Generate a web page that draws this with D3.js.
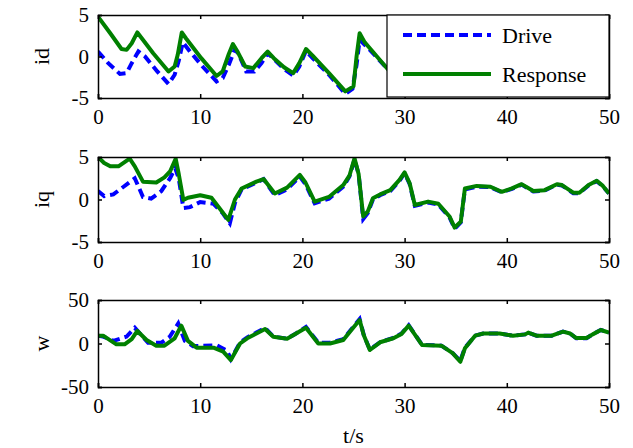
<!DOCTYPE html>
<html><head><meta charset="utf-8">
<script src="https://cdn.jsdelivr.net/npm/d3@7"></script>
<style>html,body{margin:0;padding:0;background:#fff}svg{display:block}</style>
</head><body>
<script>
// ---- data ----
const seriesNames = ["Drive", "Response"];
const xTicks = [0, 10, 20, 30, 40, 50];
const yTicksI = [-5, 0, 5];
const yTicksW = [-50, 0, 50];
const yLabels = ["id", "iq", "w"];
const xLabel = "t/s";

const idDriveT = [0,1,2.15,2.8,3.3,3.95,4.6,5.8,6.9,7.5,7.9,8.3,9,10.3,11.6,12.2,12.8,13.4,13.8,14.5,15.3,16,16.6,17.2,18.2,19.1,19.7,20.35,21,22.6,24.2,24.9,25.3,25.6,26.6,28.4,29.5];
const idDriveV = [0.6,-0.8,-2.1,-2.0,-0.8,0.6,0.0,-1.8,-3.3,-2.2,-0.5,1.7,0.6,-1.3,-3.0,-2.6,-1.0,0.9,0.2,-1.8,-1.8,-0.8,0.4,-0.3,-1.5,-2.3,-1.2,0.7,-0.2,-2.2,-4.5,-3.9,-1.0,2.0,0.8,-1.6,-2.8];
const idRespT = [0,1.2,2.3,2.8,3.3,3.85,5.4,6.9,7.5,7.8,8.2,8.6,10.1,11.6,12.2,12.8,13.2,13.6,14.4,15.2,16,16.6,17.2,18.2,19.1,19.7,20.35,21,22.6,24.2,25,25.3,25.6,26.1,26.6,28.4,29.5];
const idRespV = [4.8,2.8,0.9,0.8,1.6,2.9,0.4,-1.8,-1.2,0.2,2.9,2.2,-0.2,-2.35,-1.8,0.3,1.5,0.7,-1.2,-1.4,-0.2,0.6,-0.2,-1.3,-2.0,-0.8,0.9,0.1,-2.0,-4.2,-3.6,0.0,2.8,1.7,1.0,-1.6,-2.6];

const iqDriveT = [0,0.6,1.5,2.5,3.6,4.0,4.4,5.2,6.2,7.05,7.55,7.9,8.35,9,10,11.3,12.2,12.9,13.4,14.05,15.5,16.2,17.3,18.5,19.75,20.3,21.2,22.6,24,24.6,25.1,25.5,25.95,26.4,26.9,27.6,28.6,29.5,30.0,30.5,31.0,32.3,33.3,34.4,34.9,35.5,35.9,37.05,38.4,39.5,40.5,41.45,42.6,43.7,44.9,45.4,46.5,47.1,48,48.8,49.4,50];
const iqDriveV = [1.0,0.4,0.6,1.5,2.5,1.4,0.3,0.1,1.0,2.5,3.7,2.5,-1.0,-0.9,-0.3,-0.5,-1.6,-2.8,-0.4,1.2,2.0,2.4,0.5,1.2,2.7,1.8,-0.45,0.1,1.5,2.7,4.7,3.0,-2.3,-1.6,0.0,0.5,1.0,2.2,3.1,1.8,-0.75,-0.35,-0.6,-2.1,-3.45,-2.7,1.2,1.5,1.45,0.85,1.25,1.75,0.95,1.05,1.75,1.65,0.75,0.75,1.65,2.15,1.55,0.7];
const iqRespT = [0,0.6,1.2,2,3.1,3.6,4.4,5.7,6.5,7.05,7.6,7.9,8.35,8.8,10,11.1,12,12.75,13.4,14.05,15.5,16.2,17.3,18.5,19.75,20.3,21.2,22.6,24,24.6,25.1,25.5,25.95,26.4,26.9,27.6,28.6,29.5,30.0,30.5,31.0,32.3,33.3,34.4,34.9,35.5,35.9,37.05,38.4,39.5,40.5,41.45,42.6,43.7,44.9,45.4,46.5,47.1,48,48.8,49.4,50];
const iqRespV = [5.0,4.3,3.9,3.9,4.8,3.9,2.1,2.0,2.6,3.3,4.8,3.0,-0.05,0.2,0.5,0.2,-1.2,-2.4,0.0,1.3,2.1,2.4,0.7,1.4,2.9,2.0,-0.25,0.3,1.7,2.8,4.85,3.0,-2.0,-1.4,0.15,0.6,1.1,2.3,3.2,1.9,-0.65,-0.25,-0.5,-2.0,-3.3,-2.6,1.3,1.6,1.5,0.9,1.3,1.8,1.0,1.1,1.8,1.7,0.8,0.8,1.7,2.2,1.6,0.7];

const wDriveT = [0,0.5,1.5,2.8,3.6,4.2,4.9,6.2,7.0,7.85,8.5,9.3,11.6,12.6,13,13.9,14.6,16.35,17.15,18.5,19.3,20.35,21.55,22.7,24,24.65,25.6,26,26.6,27.6,28.9,29.7,30.4,31.7,33.6,34.7,35.45,35.9,36.9,37.7,39.3,40.6,41.8,42.1,42.9,44.4,45.5,46.2,46.8,47.8,48.4,49.2,50];
const wDriveV = [9,8,3,8,18,10,1,1,7.5,23,3,-3,-2,-8,-18,1,7,18,8,5.5,11,19,1,1,5,14.5,28,10,-7,1.5,6.5,11.5,21,-1.5,-2.5,-11,-20,-5,9,11.5,11.5,9,10.5,12.5,9,9,13.6,11.5,6,6,10.5,15.5,12.5];
const wRespT = [0,0.5,1.8,2.6,3.3,3.85,4.75,5.7,6.5,7.5,8.15,8.8,9.65,11.3,12.25,13,13.9,14.6,16.35,17.15,18.5,19.3,20.35,21.55,22.7,24,24.65,25.6,26,26.6,27.6,28.9,29.7,30.4,31.7,33.6,34.7,35.45,35.9,36.9,37.7,39.3,40.6,41.8,42.1,42.9,44.4,45.5,46.2,46.8,47.8,48.4,49.2,50];
const wRespV = [9,9,-1,-1,5,14.4,4,-2.5,-2.5,6,20.5,3,-4.8,-4.8,-9.4,-19,0,6,16.7,7.8,5.5,11,18,0,0,4,13.6,27,9.8,-7.5,1.4,6,11,20.5,-1.7,-2.5,-11,-21,-5.5,9,11.5,11.5,9,10.5,12.5,9,9,13.6,11.5,6.3,6.3,10.5,15.5,12.5];

// ---- layout ----
const W = 633, H = 448;
const FONT = "Times New Roman, Liberation Serif, DejaVu Serif, serif";
const svg = d3.select("body").append("svg").attr("width", W).attr("height", H)
  .style("font-family", FONT);
const left = 98, right = 609;
const panels = [
  {top: 15, bottom: 98, dom: [-5, 5], ticks: yTicksI, label: yLabels[0],
   drive: d3.zip(idDriveT, idDriveV), resp: d3.zip(idRespT, idRespV)},
  {top: 157, bottom: 242, dom: [-5, 5], ticks: yTicksI, label: yLabels[1],
   drive: d3.zip(iqDriveT, iqDriveV), resp: d3.zip(iqRespT, iqRespV)},
  {top: 300, bottom: 387, dom: [-50, 50], ticks: yTicksW, label: yLabels[2],
   drive: d3.zip(wDriveT, wDriveV), resp: d3.zip(wRespT, wRespV)}
];
const x = d3.scaleLinear().domain([0, 50]).range([left, right]);
const FS = 21, FSL = 22, TL = 4;
const fmt = d => String(d); // plain hyphen-minus like the reference

function styleText(sel, fs) {
  return sel.style("font-family", FONT).style("font-size", (fs || FS) + "px").attr("fill", "#000");
}

panels.forEach((p, i) => {
  const y = d3.scaleLinear().domain(p.dom).range([p.bottom, p.top]);
  const g = svg.append("g");
  const cid = "clip" + i;
  svg.append("clipPath").attr("id", cid).append("rect")
    .attr("x", left).attr("y", p.top).attr("width", right - left).attr("height", p.bottom - p.top);
  const line = d3.line().x(d => x(d[0])).y(d => y(d[1]));
  const lg = g.append("g").attr("clip-path", `url(#${cid})`);
  lg.append("path").datum(p.drive).attr("d", line).attr("fill", "none")
    .attr("stroke", "#0000ff").attr("stroke-width", 4).attr("stroke-dasharray", "9,5");
  lg.append("path").datum(p.resp).attr("d", line).attr("fill", "none")
    .attr("stroke", "#008000").attr("stroke-width", 4).attr("stroke-linejoin", "round");

  // axes with inward ticks
  const axB = d3.axisBottom(x).tickValues(xTicks).tickSize(-TL).tickPadding(10).tickFormat(fmt);
  const axT = d3.axisTop(x).tickValues(xTicks).tickSize(-TL).tickFormat("");
  const axL = d3.axisLeft(y).tickValues(p.ticks).tickSize(-TL).tickPadding(9).tickFormat(fmt);
  const axR = d3.axisRight(y).tickValues(p.ticks).tickSize(-TL).tickFormat("");
  const gb = g.append("g").attr("transform", `translate(0,${p.bottom})`).call(axB);
  const gt = g.append("g").attr("transform", `translate(0,${p.top})`).call(axT);
  const gl = g.append("g").attr("transform", `translate(${left},0)`).call(axL);
  const gr = g.append("g").attr("transform", `translate(${right},0)`).call(axR);
  [gb, gt, gl, gr].forEach(a => {
    a.attr("font-family", null).attr("font-size", null);
    a.select(".domain").attr("stroke", "#000").attr("stroke-width", 1.5);
    a.selectAll(".tick line").attr("stroke", "#000").attr("stroke-width", 1.5);
    styleText(a.selectAll("text"));
  });
  gb.selectAll("text").attr("dy", "0.71em").attr("y", 11);
  styleText(g.append("text").attr("transform", `translate(49,${(p.top + p.bottom) / 2}) rotate(-90)`)
    .attr("text-anchor", "middle").text(p.label), FSL);
});

styleText(svg.append("text").attr("x", (left + right) / 2).attr("y", 443).attr("text-anchor", "middle")
  .text(xLabel), FSL);

// legend
const lgd = svg.append("g");
lgd.append("rect").attr("x", 387).attr("y", 15).attr("width", 222).attr("height", 82)
  .attr("fill", "#fff").attr("stroke", "#000").attr("stroke-width", 1.2);
const items = [{name: seriesNames[0], c: "#0000ff", dash: "9,5", y: 35},
               {name: seriesNames[1], c: "#008000", dash: null, y: 74}];
items.forEach(it => {
  lgd.append("line").attr("x1", 403).attr("x2", 491).attr("y1", it.y).attr("y2", it.y)
    .attr("stroke", it.c).attr("stroke-width", 4).attr("stroke-dasharray", it.dash);
  styleText(lgd.append("text").attr("x", 502).attr("y", it.y).attr("dy", "0.35em").text(it.name), FSL);
});
</script>
</body></html>
